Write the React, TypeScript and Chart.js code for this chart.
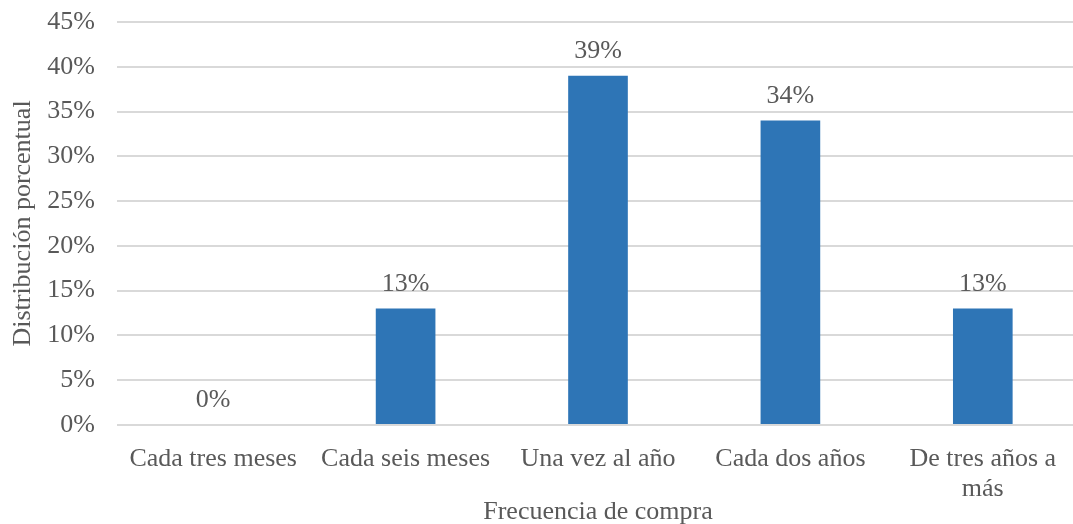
import { useEffect, useRef } from "react";
import { Chart, registerables } from "chart.js";

Chart.register(...registerables);

// Purchase frequency categories and their share of respondents (%)
const categories: (string | string[])[] = [
  "Cada tres meses",
  "Cada seis meses",
  "Una vez al año",
  "Cada dos años",
  ["De tres años a", "más"],
];
const shares = [0, 13, 39, 34, 13];

const yMax = 45;
const yStep = 5;

const FONT = "'Liberation Serif', 'Times New Roman', serif";
const TEXT = "#595959";
const BAR = "#2E75B6";
const GRID = "#d9d9d9";

// Draws the percentage above each bar
const valueLabels = {
  id: "valueLabels",
  afterDatasetsDraw(chart: any) {
    const { ctx } = chart;
    const meta = chart.getDatasetMeta(0);
    const data = chart.data.datasets[0].data as number[];
    ctx.save();
    ctx.font = `26px ${FONT}`;
    ctx.fillStyle = TEXT;
    ctx.textAlign = "center";
    ctx.textBaseline = "alphabetic";
    meta.data.forEach((bar: any, i: number) => {
      ctx.fillText(`${data[i]}%`, bar.x, bar.y - 18);
    });
    ctx.restore();
  },
};

export default function App() {
  const canvasRef = useRef<HTMLCanvasElement | null>(null);

  useEffect(() => {
    if (!canvasRef.current) return;
    const chart = new Chart(canvasRef.current, {
      type: "bar",
      data: {
        labels: categories,
        datasets: [
          {
            data: shares,
            backgroundColor: BAR,
            borderWidth: 0,
            categoryPercentage: 1,
            barPercentage: 0.31,
          },
        ],
      },
      options: {
        responsive: false,
        animation: false,
        devicePixelRatio: 1,
        layout: { padding: { top: 22, right: 2, bottom: 0, left: 0 } },
        plugins: {
          legend: { display: false },
          tooltip: { enabled: false },
        },
        scales: {
          x: {
            grid: { display: false, drawTicks: false },
            border: { display: false },
            ticks: {
              color: TEXT,
              font: { family: FONT, size: 26, lineHeight: 1.15 },
              padding: 19,
              maxRotation: 0,
              autoSkip: false,
            },
            title: {
              display: true,
              text: "Frecuencia de compra",
              color: TEXT,
              font: { family: FONT, size: 26, lineHeight: 1.2 },
              padding: { top: 0, bottom: -4 },
            },
            afterFit(scale: any) {
              scale.height = 99;
            },
          },
          y: {
            min: 0,
            max: yMax,
            grid: { color: GRID, lineWidth: 2, drawTicks: false },
            border: { display: false },
            ticks: {
              stepSize: yStep,
              color: TEXT,
              font: { family: FONT, size: 26 },
              padding: 22,
              callback: (v: any) => `${v}%`,
            },
            title: {
              display: true,
              text: "Distribución porcentual",
              color: TEXT,
              font: { family: FONT, size: 26, lineHeight: 1.2 },
              padding: { top: 8, bottom: 0 },
            },
            afterFit(scale: any) {
              scale.width = 117;
              scale.paddingTop = 0;
              scale.paddingBottom = 0;
            },
          },
        },
      },
      plugins: [valueLabels],
    });
    return () => chart.destroy();
  }, []);

  return (
    <div
      style={{
        position: "fixed",
        left: 0,
        top: 0,
        width: 1073,
        height: 524,
        overflow: "hidden",
        background: "#ffffff",
      }}
    >
      <canvas ref={canvasRef} width={1081} height={524} />
    </div>
  );
}
